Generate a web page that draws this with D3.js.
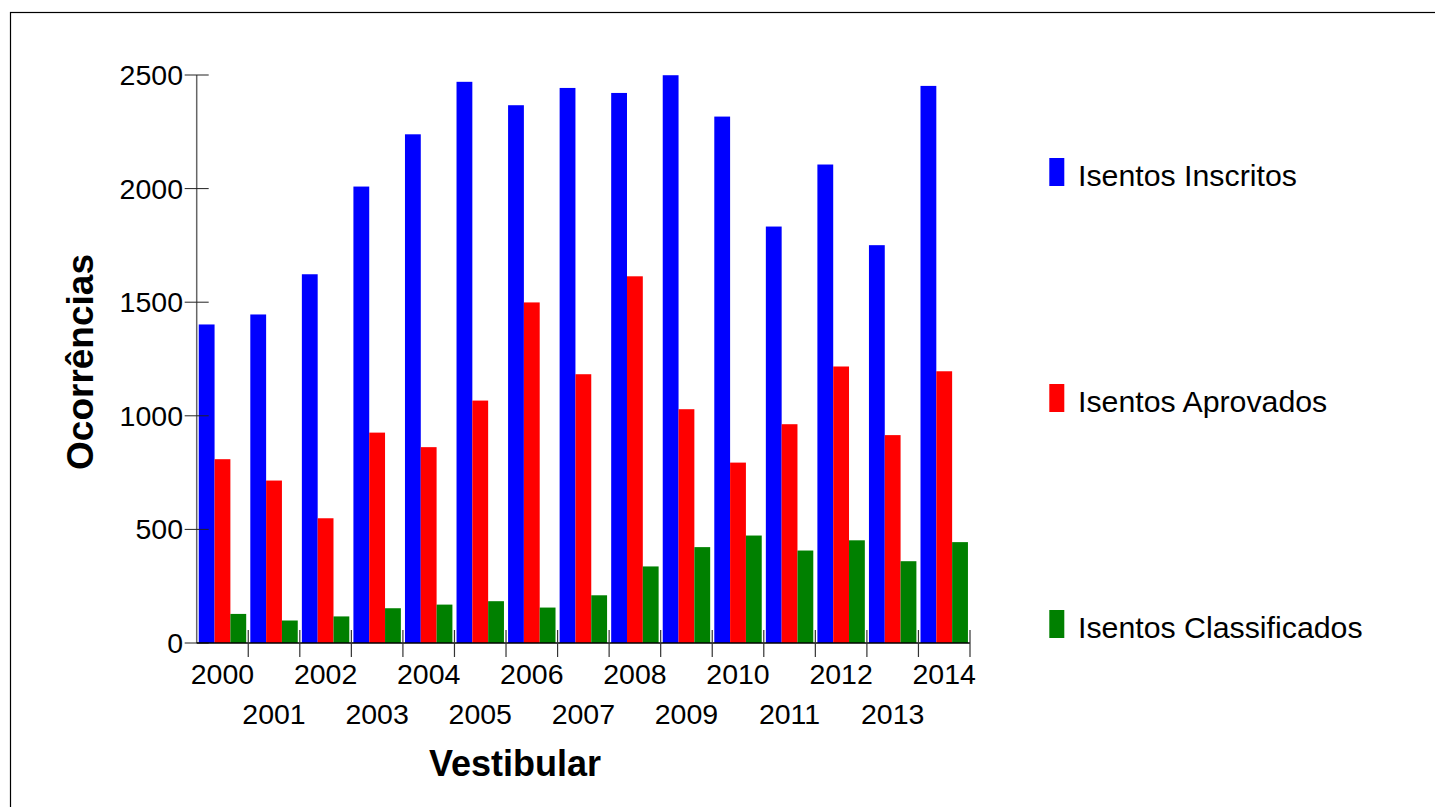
<!DOCTYPE html>
<html>
<head>
<meta charset="utf-8">
<script src="https://cdn.jsdelivr.net/npm/d3@7"></script>
<style>
  html, body { margin: 0; padding: 0; background: #fff; }
  svg { display: block; font-family: "Liberation Sans", Arial, sans-serif; }
</style>
</head>
<body>
<svg id="chart" width="1435" height="807"></svg>
<script>
const years = ["2000","2001","2002","2003","2004","2005","2006","2007","2008","2009","2010","2011","2012","2013","2014"];
const seriesNames = ["Isentos Inscritos","Isentos Aprovados","Isentos Classificados"];
const seriesColors = ["#0000ff","#ff0000","#008000"];
const inscritos = [1402,1446,1623,2009,2239,2470,2367,2443,2421,2499,2317,1833,2106,1751,2452];
const aprovados = [809,715,549,926,862,1067,1499,1183,1614,1029,794,963,1217,915,1196];
const classificados = [128,99,117,153,169,184,156,210,337,422,473,407,452,360,444];
const yTicks = [0,500,1000,1500,2000,2500];
const xTitle = "Vestibular";
const yTitle = "Ocorrências";

(function () {
const seriesValues = [inscritos, aprovados, classificados];

const svg = d3.select("#chart");

// outer frame
svg.append("rect").attr("x", 10.5).attr("y", 12.5).attr("width", 1440).attr("height", 800)
  .attr("fill", "none").attr("stroke", "#000").attr("stroke-width", 1.2);

const pL = 196.7, pR = 970, pT = 75, pB = 643;

const x0 = d3.scaleBand().domain(years).range([pL, pR]).padding(0);
const x1 = d3.scaleBand().domain(seriesNames).range([0, x0.bandwidth()]).paddingInner(0).paddingOuter(0.13);
const y = d3.scaleLinear().domain([0, 2500]).range([pB, pT]);

// bars
const g = svg.append("g");
seriesNames.forEach((name, si) => {
  g.selectAll(null).data(years).enter().append("rect")
    .attr("x", d => x0(d) + x1(name))
    .attr("y", (d, i) => y(seriesValues[si][i]))
    .attr("width", x1.bandwidth())
    .attr("height", (d, i) => y(0) - y(seriesValues[si][i]))
    .attr("fill", seriesColors[si]);
});

// y axis
const yAxis = svg.append("g");
yAxis.append("line").attr("x1", pL).attr("x2", pL).attr("y1", pT).attr("y2", pB)
  .attr("stroke", "#666").attr("stroke-width", 1.5);
yAxis.selectAll(".yt").data(yTicks).enter().append("line")
  .attr("x1", pL - 12).attr("x2", pL + 12)
  .attr("y1", d => y(d)).attr("y2", d => y(d))
  .attr("stroke", "#222").attr("stroke-width", 1);
yAxis.selectAll(".yl").data(yTicks).enter().append("text")
  .attr("x", 183).attr("y", d => y(d) + 10)
  .attr("text-anchor", "end").attr("font-size", 28.5).attr("fill", "#000")
  .text(d => d);

// x axis
const xAxis = svg.append("g");
xAxis.append("line").attr("x1", pL).attr("x2", pR).attr("y1", pB).attr("y2", pB)
  .attr("stroke", "#000").attr("stroke-width", 1.3);
xAxis.selectAll(".xt").data(years).enter().append("line")
  .attr("x1", d => x0(d) + x0.bandwidth()).attr("x2", d => x0(d) + x0.bandwidth())
  .attr("y1", pB - 13).attr("y2", pB + 14)
  .attr("stroke", "#333").attr("stroke-width", 1.2);
xAxis.selectAll(".xl").data(years).enter().append("text")
  .attr("x", d => x0(d) + x0.bandwidth() / 2)
  .attr("y", (d, i) => i % 2 === 0 ? 684 : 724)
  .attr("text-anchor", "middle").attr("font-size", 28.5).attr("fill", "#000")
  .text(d => d);

// axis titles
svg.append("text").attr("x", 515).attr("y", 776).attr("text-anchor", "middle")
  .attr("font-size", 36).attr("font-weight", "bold").attr("fill", "#000").text(xTitle);
svg.append("text").attr("transform", "translate(93,362) rotate(-90)").attr("text-anchor", "middle")
  .attr("font-size", 37).attr("font-weight", "bold").attr("fill", "#000").text(yTitle);

// legend
const legendY = [186, 412, 638];
const leg = svg.append("g");
seriesNames.forEach((name, i) => {
  leg.append("rect").attr("x", 1049.3).attr("y", legendY[i] - 28).attr("width", 15).attr("height", 28)
    .attr("fill", seriesColors[i]);
  leg.append("text").attr("x", 1078).attr("y", legendY[i]).attr("font-size", 30.3).attr("fill", "#000").text(name);
});
})();
</script>
</body>
</html>
